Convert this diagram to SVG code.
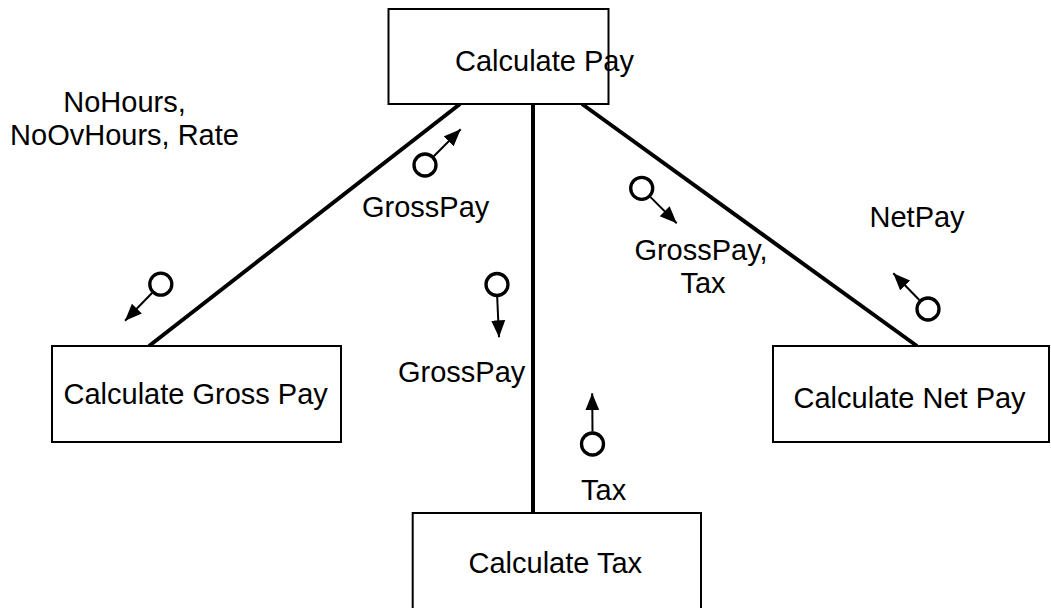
<svg xmlns="http://www.w3.org/2000/svg" width="1051" height="608" viewBox="0 0 1051 608">
<style>
.box{fill:#fff;stroke:#000;stroke-width:2}
.t{font-family:"Liberation Sans",Arial,sans-serif;font-size:29px;fill:#000}
.conn{stroke:#000;stroke-width:4;fill:none}
.flow{stroke:#000;stroke-width:2;fill:none;marker-end:url(#ah)}
.cp{fill:none;stroke:#000;stroke-width:3.3}
</style>
<defs>
<marker id="ah" markerUnits="userSpaceOnUse" markerWidth="18" markerHeight="15" refX="17" refY="7.5" orient="auto">
<path d="M0,0.5 L17,7.5 L0,14.5 z" fill="#000"/>
</marker>
</defs>
<rect width="1051" height="608" fill="#fff"/>
<g id="connectors">
<line class="conn" x1="460" y1="104" x2="149" y2="346"/>
<line class="conn" x1="533" y1="104" x2="533" y2="513"/>
<line class="conn" x1="582" y1="104" x2="917" y2="346"/>
</g>
<g id="calculate-pay">
<rect class="box" x="388.5" y="9" width="220" height="95"/>
<text class="t" x="455" y="71">Calculate Pay</text>
</g>
<g id="calculate-gross-pay">
<rect class="box" x="52" y="346" width="289" height="96"/>
<text class="t" x="63.5" y="404">Calculate Gross Pay</text>
</g>
<g id="calculate-tax">
<rect class="box" x="412.7" y="513" width="288.3" height="100"/>
<text class="t" x="468.5" y="573">Calculate Tax</text>
</g>
<g id="calculate-net-pay">
<rect class="box" x="773" y="346" width="276" height="96"/>
<text class="t" x="793.5" y="408">Calculate Net Pay</text>
</g>
<g id="flow-gross-in">
<circle class="cp" cx="160.8" cy="284.2" r="11"/>
<line class="flow" x1="152" y1="293" x2="125" y2="320.7"/>
<text class="t" x="124.5" y="112" text-anchor="middle">NoHours,</text>
<text class="t" x="124.5" y="145" text-anchor="middle">NoOvHours, Rate</text>
</g>
<g id="flow-gross-out">
<circle class="cp" cx="425" cy="165" r="11"/>
<line class="flow" x1="433.8" y1="156.2" x2="460.7" y2="129.3"/>
<text class="t" x="362" y="217">GrossPay</text>
</g>
<g id="flow-tax-in">
<circle class="cp" cx="497" cy="284.5" r="11"/>
<line class="flow" x1="497.2" y1="297" x2="499" y2="337.3"/>
<text class="t" x="398" y="382">GrossPay</text>
</g>
<g id="flow-tax-out">
<circle class="cp" cx="592.5" cy="444" r="11"/>
<line class="flow" x1="592.5" y1="431.5" x2="592.2" y2="393.3"/>
<text class="t" x="581" y="500">Tax</text>
</g>
<g id="flow-net-in">
<circle class="cp" cx="641.7" cy="188.3" r="11"/>
<line class="flow" x1="650.5" y1="197.1" x2="676.7" y2="223.3"/>
<text class="t" x="701" y="260" text-anchor="middle">GrossPay,</text>
<text class="t" x="703" y="293" text-anchor="middle">Tax</text>
</g>
<g id="flow-net-out">
<circle class="cp" cx="928" cy="309" r="11"/>
<line class="flow" x1="919.3" y1="300" x2="893.3" y2="273.3"/>
<text class="t" x="869.5" y="227">NetPay</text>
</g>
</svg>
